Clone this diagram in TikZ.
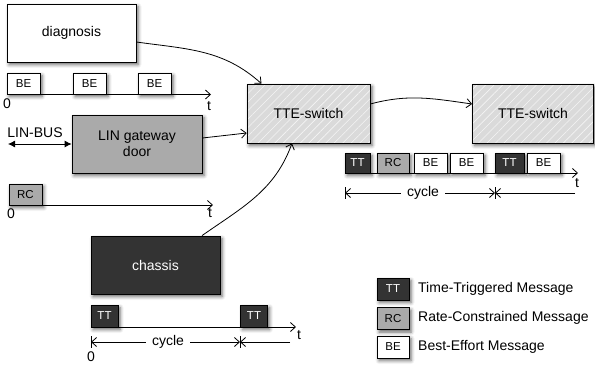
\documentclass[tikz,border=0pt]{standalone}
\usepackage{fontspec}
\setmainfont{Liberation Sans}
\usetikzlibrary{arrows.meta,calc,shadows.blur,patterns.meta}
\definecolor{darkbox}{HTML}{333333}
\definecolor{midbox}{HTML}{AAAAAA}
\definecolor{swbox}{HTML}{DADADA}
\begin{document}
\begin{tikzpicture}[x=1pt,y=-1pt,
  shad/.style={blur shadow={shadow xshift=2pt, shadow yshift=-2.5pt, shadow blur radius=3.5pt, shadow opacity=60}},
  box/.style={draw=black, line width=0.8pt, inner sep=0pt, shad},
  big/.style={box, minimum width=129pt, minimum height=58pt,
    font=\fontsize{14}{16}\selectfont, align=center},
  sw/.style={draw=black, line width=0.8pt, inner sep=0pt, shad,
    preaction={fill=swbox},
    pattern={Lines[angle=45,distance=6pt,line width=0.6pt]}, pattern color=white!70!swbox,
    minimum width=123pt, minimum height=59pt,
    font=\fontsize{14}{16}\selectfont},
  msg/.style={box, minimum height=21pt, minimum width=33pt, font=\fontsize{11.5}{13}\selectfont},
  tt/.style={msg, fill=darkbox, text=white},
  rc/.style={msg, fill=midbox},
  be/.style={msg, fill=white},
  lbl/.style={font=\fontsize{14}{16}\selectfont, inner sep=0pt},
  conn/.style={line width=0.8pt, -{Straight Barb[length=5pt,width=9pt]}},
  axis/.style={line width=0.8pt, -{Straight Barb[length=5pt,width=9pt]}},
  tick/.style={line width=0.8pt}
]
\useasboundingbox (0,0) rectangle (595,367);

% diagnosis
\node[big, fill=white] (diag) at (71.5,33) {diagnosis};
\node[be] (be1) at (23.5,83.5) {BE};
\node[be] (be2) at (89.5,83.5) {BE};
\node[be] (be3) at (154.5,83.5) {BE};
\coordinate (a1s) at (7,94.5);
\coordinate (a1e) at (211,94.5);
\draw[axis] (a1s) -- (a1e);
\node[lbl] (z1) at (7,104) {0};
\node[lbl] (t1) at (209,106) {t};

% LIN gateway
\node[big, fill=midbox, minimum width=130pt] (lin) at (137,144) {LIN gateway\\door};
\node[lbl] (linbus) at (35,133) {LIN-BUS};
\coordinate (lbl0) at (8,144);
\draw[line width=0.8pt, {Latex[length=7pt,width=7pt]}-{Latex[length=7pt,width=7pt]}] (lbl0) -- (lin.west);

% RC
\node[rc] (rc1) at (25.5,194.5) {RC};
\coordinate (a2s) at (9,205);
\coordinate (a2e) at (213,205);
\draw[axis] (a2s) -- (a2e);
\node[lbl] (z2) at (11,214) {0};
\node[lbl] (t2) at (210,213) {t};

% chassis
\node[big, fill=darkbox, text=white] (chassis) at (155.5,265) {chassis};
\node[tt, minimum width=27pt, minimum height=22pt] (tt1) at (104.5,316) {TT};
\node[tt, minimum width=27pt, minimum height=22pt] (tt2) at (254,316) {TT};
\coordinate (a3s) at (91,327);
\coordinate (a3e) at (296,327);
\draw[axis] (a3s) -- (a3e);
\node[lbl] (t3) at (299,335) {t};
\node[lbl] (z3) at (91,357) {0};
% cycle (bottom)
\coordinate (c3a) at (91,342);
\coordinate (c3b) at (240,342);
\coordinate (c3c) at (290,342);
\draw[tick] ($(c3a)+(0,-6)$) -- ($(c3a)+(0,6)$);
\draw[tick] ($(c3b)+(0,-6)$) -- ($(c3b)+(0,6)$);
\node[lbl] (cy3) at (168,342) {cycle};
\draw[axis] (cy3.west) ++(-6,0) -- (c3a);
\draw[axis] (cy3.east) ++(6,0) -- (c3b);
\draw[axis] (c3c) -- (c3b);

% TTE switches
\node[sw] (tte1) at (308.5,113.5) {TTE-switch};
\node[sw, minimum width=121pt] (tte2) at (533,113.5) {TTE-switch};

% message strip
\node[tt, minimum width=25pt, minimum height=20pt] (m1) at (357.5,163) {TT};
\node[rc, minimum width=32pt, minimum height=20pt] (m2) at (393,163) {RC};
\node[be, minimum height=20pt] (m3) at (430.5,163) {BE};
\node[be, minimum height=20pt] (m4) at (466.5,163) {BE};
\node[tt, minimum width=29pt, minimum height=20pt] (m5) at (509.5,163) {TT};
\node[be, minimum height=20pt] (m6) at (543.5,163) {BE};
\coordinate (a4s) at (345,173);
\coordinate (a4e) at (578,173);
\draw[axis] (a4s) -- (a4e);
\node[lbl] (t4) at (577,183) {t};
\coordinate (c4a) at (345,193);
\coordinate (c4b) at (495,193);
\coordinate (c4c) at (575,193);
\draw[tick] ($(c4a)+(0,-6)$) -- ($(c4a)+(0,6)$);
\draw[tick] ($(c4b)+(0,-6)$) -- ($(c4b)+(0,6)$);
\node[lbl] (cy4) at (423,193) {cycle};
\draw[axis] (cy4.west) ++(-6,0) -- (c4a);
\draw[axis] (cy4.east) ++(6,0) -- (c4b);
\draw[axis] (c4c) -- (c4b);

% connectors
\draw[conn] ($(diag.east)+(0,9)$) to[out=-8, in=138] ($(tte1.north)+(-47,0)$);
\draw[conn] ($(lin.east)+(0,-6)$) -- ($(tte1.west)+(0,19.5)$);
\draw[conn] ($(chassis.north)+(46.5,0)$) to[out=35, in=250] ($(tte1.south)+(-16.5,0)$);
\draw[conn] ($(tte1.east)+(0,-9.5)$) to[out=15, in=172] ($(tte2.west)+(0,-9.5)$);

% legend
\node[tt, minimum width=32pt, minimum height=22pt] (ltt) at (393,289) {TT};
\node[rc, minimum width=32pt, minimum height=22pt] (lrc) at (393,318.5) {RC};
\node[be, minimum width=32pt, minimum height=22pt] (lbe) at (393,347) {BE};
\node[lbl, anchor=west] (ltxt1) at (418,289) {Time-Triggered Message};
\node[lbl, anchor=west] (ltxt2) at (418,318) {Rate-Constrained Message};
\node[lbl, anchor=west] (ltxt3) at (418,347) {Best-Effort Message};
\end{tikzpicture}
\end{document}
